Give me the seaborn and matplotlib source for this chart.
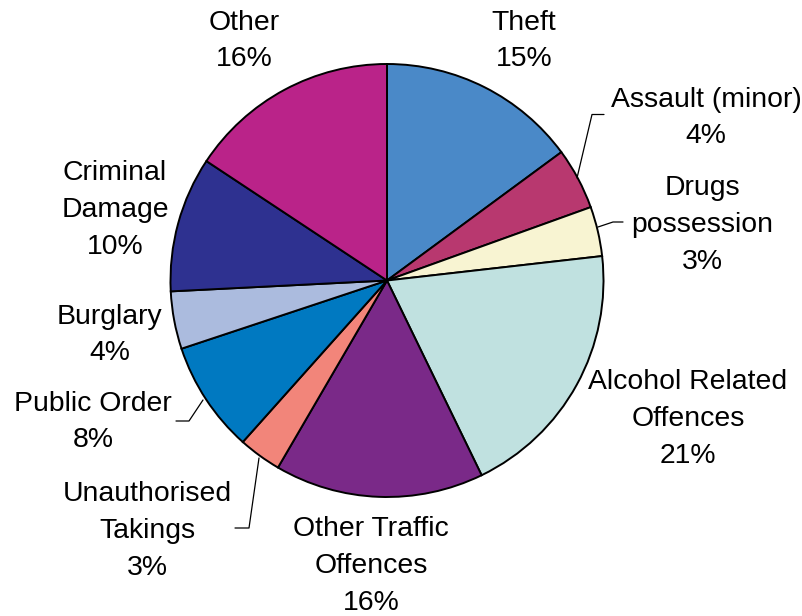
import matplotlib
matplotlib.use("Agg")
import matplotlib.pyplot as plt
import seaborn as sns

sns.set_theme(style="white")
plt.rcParams['font.family'] = ['Liberation Sans', 'DejaVu Sans']

# Data (clockwise from 12 o'clock); shares measured from the wedge angles,
# label texts as printed on the chart
categories = ["Theft", "Assault (minor)", "Drugs\npossession", "Alcohol Related\nOffences",
              "Other Traffic\nOffences", "Unauthorised\nTakings", "Public Order",
              "Burglary", "Criminal\nDamage", "Other"]
shares = [14.9, 4.6, 3.7, 19.6, 15.6, 3.2, 8.3, 4.3, 10.1, 15.7]
pct_labels = ["15%", "4%", "3%", "21%", "16%", "3%", "8%", "4%", "10%", "16%"]
colors = ["#4A89C8", "#B8386F", "#F8F4D2", "#C0E1E0", "#7A2988",
          "#F2857A", "#0079C1", "#ABBBDE", "#2E3190", "#BA2389"]

W, H = 803, 616
fig = plt.figure(figsize=(W / 100, H / 100), dpi=100)
ax = fig.add_axes([0, 0, 1, 1])

cx, cy, R = 387, H - 280.5, 216.5
ax.pie(shares, colors=colors, startangle=90, counterclock=False,
       center=(cx, cy), radius=R,
       wedgeprops=dict(edgecolor="black", linewidth=1.4))
ax.set_xlim(0, W)
ax.set_ylim(0, H)
ax.set_aspect("equal")
ax.axis("off")

# label block centres in pixel coords (y down)
label_pos = [(524, 41), (706, 118), (702, 225), (688, 419), (371, 566),
             (147, 531), (93, 422), (110, 335), (115, 210), (244, 41)]
for cat, pct, (x, y) in zip(categories, pct_labels, label_pos):
    ax.text(x, H - y, f"{cat}\n{pct}", ha="center", va="center",
            multialignment="center", fontsize=20.4, linespacing=1.53,
            color="black")

# leader lines (pixel coords, y down)
leaders = [
    [(604, 114.5), (592, 114.5), (577, 178)],
    [(623, 222), (613, 222), (598, 227)],
    [(176, 421), (189, 421), (203, 400)],
    [(235, 528), (249, 528), (259, 458)],
]
for pts in leaders:
    xs = [p[0] for p in pts]
    ys = [H - p[1] for p in pts]
    ax.plot(xs, ys, color="black", linewidth=0.9)

fig.savefig("out.png", dpi=100)
